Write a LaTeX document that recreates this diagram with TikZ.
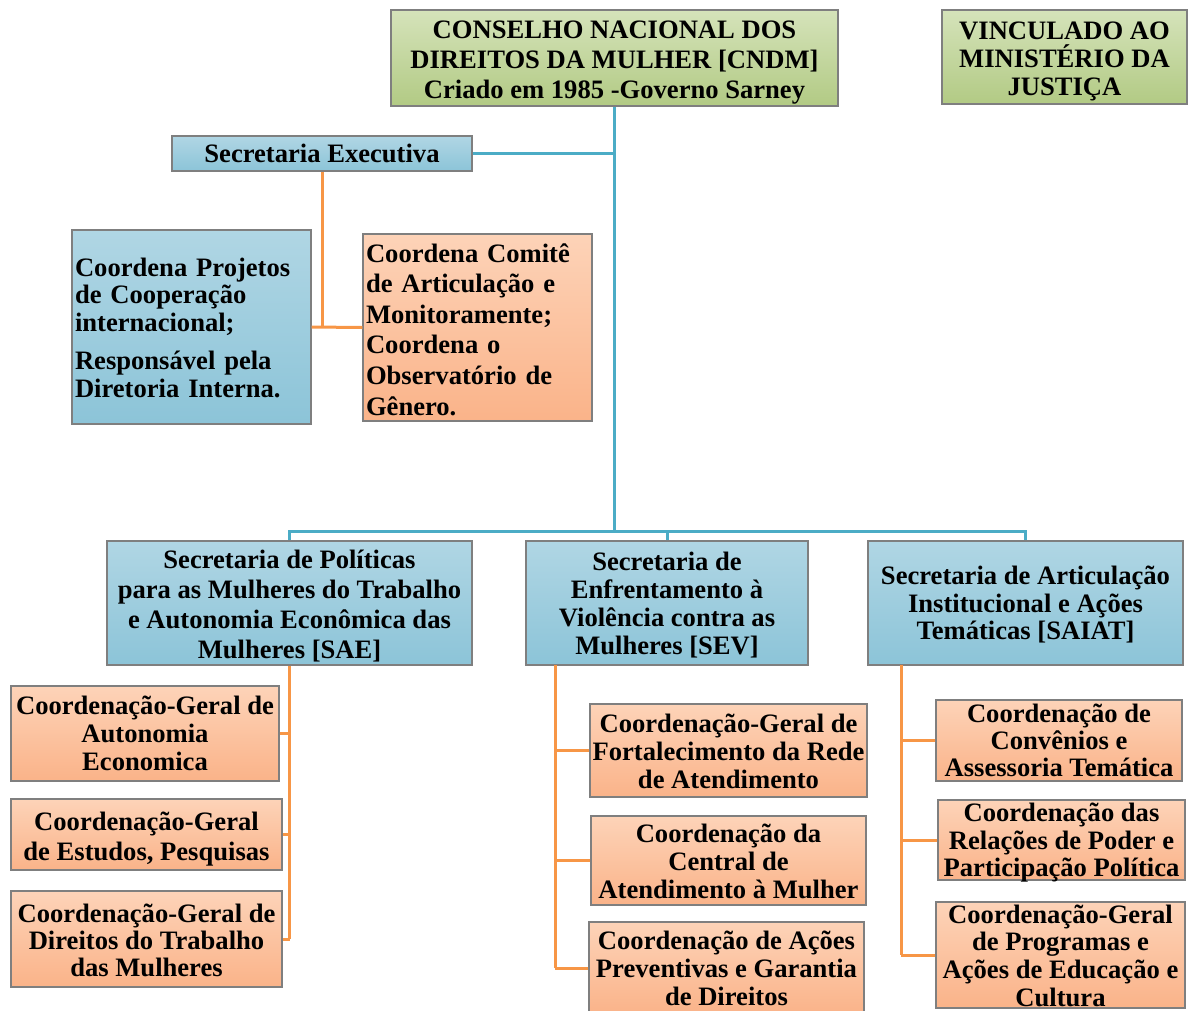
\documentclass[tikz,border=0pt]{standalone}
\usepackage{fontspec}
\setmainfont{Liberation Serif}
\definecolor{lnblue}{HTML}{4BACC6}
\definecolor{lnorange}{HTML}{F79646}
\definecolor{bluetop}{HTML}{B0D6E4}
\definecolor{bluebot}{HTML}{8CC4D8}
\definecolor{ortop}{HTML}{FDD3B8}
\definecolor{orbot}{HTML}{FAB389}
\definecolor{grtop}{HTML}{D5E3BA}
\definecolor{grbot}{HTML}{B2CA84}
\definecolor{edgegray}{HTML}{7F7F7F}
\newcommand{\fs}[1]{\bfseries\fontsize{26.6}{#1}\selectfont}
\begin{document}
\begin{tikzpicture}[x=1pt,y=-1pt,
  box/.style={draw=edgegray, line width=1.2pt, inner sep=0pt},
  bluebox/.style={box, top color=bluetop, bottom color=bluebot},
  orbox/.style={box, top color=ortop, bottom color=orbot},
  grbox/.style={box, top color=grtop, bottom color=grbot},
  lbl/.style={inner sep=0pt, align=center, font=\fs{28}},
  blueline/.style={draw=lnblue, line width=3pt},
  orline/.style={draw=lnorange, line width=3pt},
]
\useasboundingbox (0,0) rectangle (1188,1010);

% top level
\node[grbox, minimum width=447pt, minimum height=96pt,
  label={[lbl, yshift=-5pt, font=\fs{30}]center:{CONSELHO NACIONAL DOS\\DIREITOS DA MULHER [CNDM]\\Criado em 1985 -Governo Sarney}}] (cndm) at (614.5,58) {};
\node[grbox, minimum width=245pt, minimum height=94pt,
  label={[lbl, yshift=-4pt, font=\fs{28}]center:{VINCULADO AO\\MINISTÉRIO DA\\JUSTIÇA}}] (vinc) at (1064.5,57) {};

\node[bluebox, minimum width=300pt, minimum height=35pt,
  label={[lbl]center:{Secretaria Executiva}}] (sexe) at (322,153.5) {};

\node[bluebox, minimum width=239pt, minimum height=194pt,
  label={[lbl, align=left, text width=233pt, yshift=-0.5pt, font=\fs{27.5}]center:{Coordena Projetos\\de Cooperação\\internacional;\\[11pt]Responsável pela\\Diretoria Interna.}}] (proj) at (191.5,327) {};
\node[orbox, minimum width=229pt, minimum height=187pt,
  label={[lbl, align=left, text width=223pt, yshift=-2pt, font=\fs{30.6}]center:{Coordena Comitê\\de Articulação e\\Monitoramente;\\Coordena o\\Observatório de\\Gênero.}}] (comite) at (477.5,327.5) {};

% secretarias
\node[bluebox, minimum width=365pt, minimum height=124pt,
  label={[lbl, yshift=-3pt, font=\fs{30.3}]center:{Secretaria de Políticas\\para as Mulheres do Trabalho\\e Autonomia Econômica das\\Mulheres [SAE]}}] (sae) at (289.5,603) {};
\node[bluebox, minimum width=282pt, minimum height=124pt,
  label={[lbl, yshift=-2pt, font=\fs{27.7}]center:{Secretaria de\\Enfrentamento à\\Violência contra as\\Mulheres [SEV]}}] (sev) at (667,603) {};
\node[bluebox, minimum width=315pt, minimum height=124pt,
  label={[lbl, yshift=-2pt, font=\fs{27.5}]center:{Secretaria de Articulação\\Institucional e Ações\\Temáticas [SAIAT]}}] (saiat) at (1025.5,603) {};

% SAE children
\node[orbox, minimum width=268pt, minimum height=95pt,
  label={[lbl, font=\fs{28}]center:{Coordenação-Geral de\\Autonomia\\Economica}}] (a1) at (145,733.5) {};
\node[orbox, minimum width=271pt, minimum height=71pt,
  label={[lbl, yshift=-5pt, font=\fs{30}]center:{Coordenação-Geral\\de Estudos, Pesquisas}}] (a2) at (146.5,834.5) {};
\node[orbox, minimum width=271pt, minimum height=96pt,
  label={[lbl, yshift=-1pt, font=\fs{27}]center:{Coordenação-Geral de\\Direitos do Trabalho\\das Mulheres}}] (a3) at (146.5,939) {};

% SEV children
\node[orbox, minimum width=277pt, minimum height=93pt,
  label={[lbl, yshift=-0.5pt, font=\fs{28}]center:{Coordenação-Geral de\\Fortalecimento da Rede\\de Atendimento}}] (b1) at (728.5,750.5) {};
\node[orbox, minimum width=275pt, minimum height=89pt,
  label={[lbl, yshift=-1pt, font=\fs{28}]center:{Coordenação da\\Central de\\Atendimento à Mulher}}] (b2) at (728.5,860.5) {};
\node[orbox, minimum width=275pt, minimum height=92pt,
  label={[lbl, font=\fs{28}]center:{Coordenação de Ações\\Preventivas e Garantia\\de Direitos}}] (b3) at (726.5,968) {};

% SAIAT children
\node[orbox, minimum width=246pt, minimum height=81pt,
  label={[lbl, font=\fs{27}]center:{Coordenação de\\Convênios e\\Assessoria Temática}}] (c1) at (1059,740.5) {};
\node[orbox, minimum width=247pt, minimum height=80pt,
  label={[lbl, yshift=-3pt, font=\fs{27.5}]center:{Coordenação das\\Relações de Poder e\\Participação Política}}] (c2) at (1061.5,840) {};
\node[orbox, minimum width=249pt, minimum height=106pt,
  label={[lbl, yshift=-0.5pt, font=\fs{27.7}]center:{Coordenação-Geral\\de Programas e\\Ações de Educação e\\Cultura}}] (c3) at (1060.5,955) {};

% blue connectors
\coordinate (bus) at (615,531);
\draw[blueline] (cndm.south) -- (cndm.south |- bus);
\draw[blueline] (sexe.east) -- (sexe.east -| cndm.south);
\draw[blueline] (sae.north) -- (sae.north |- bus) -- (saiat.north |- bus) -- (saiat.north);
\draw[blueline] (sev.north) -- (sev.north |- bus);

% orange connectors
\draw[orline] (sexe.south) -- (sexe.south |- proj.east);
\draw[orline] (proj.east) -- (comite.west);

\draw[orline] (sae.south) -- (sae.south |- a3.east);
\draw[orline] (a1.east) -- (a1.east -| sae.south);
\draw[orline] (a2.east) -- (a2.east -| sae.south);
\draw[orline] (a3.east) -- (a3.east -| sae.south);

\coordinate (sevs) at (555,665);
\draw[orline] (sevs) -- (sevs |- b3.west);
\draw[orline] (b1.west) -- (b1.west -| sevs);
\draw[orline] (b2.west) -- (b2.west -| sevs);
\draw[orline] (b3.west) -- (b3.west -| sevs);

\coordinate (saiats) at (901,665);
\draw[orline] (saiats) -- (saiats |- c3.west);
\draw[orline] (c1.west) -- (c1.west -| saiats);
\draw[orline] (c2.west) -- (c2.west -| saiats);
\draw[orline] (c3.west) -- (c3.west -| saiats);
\end{tikzpicture}
\end{document}
